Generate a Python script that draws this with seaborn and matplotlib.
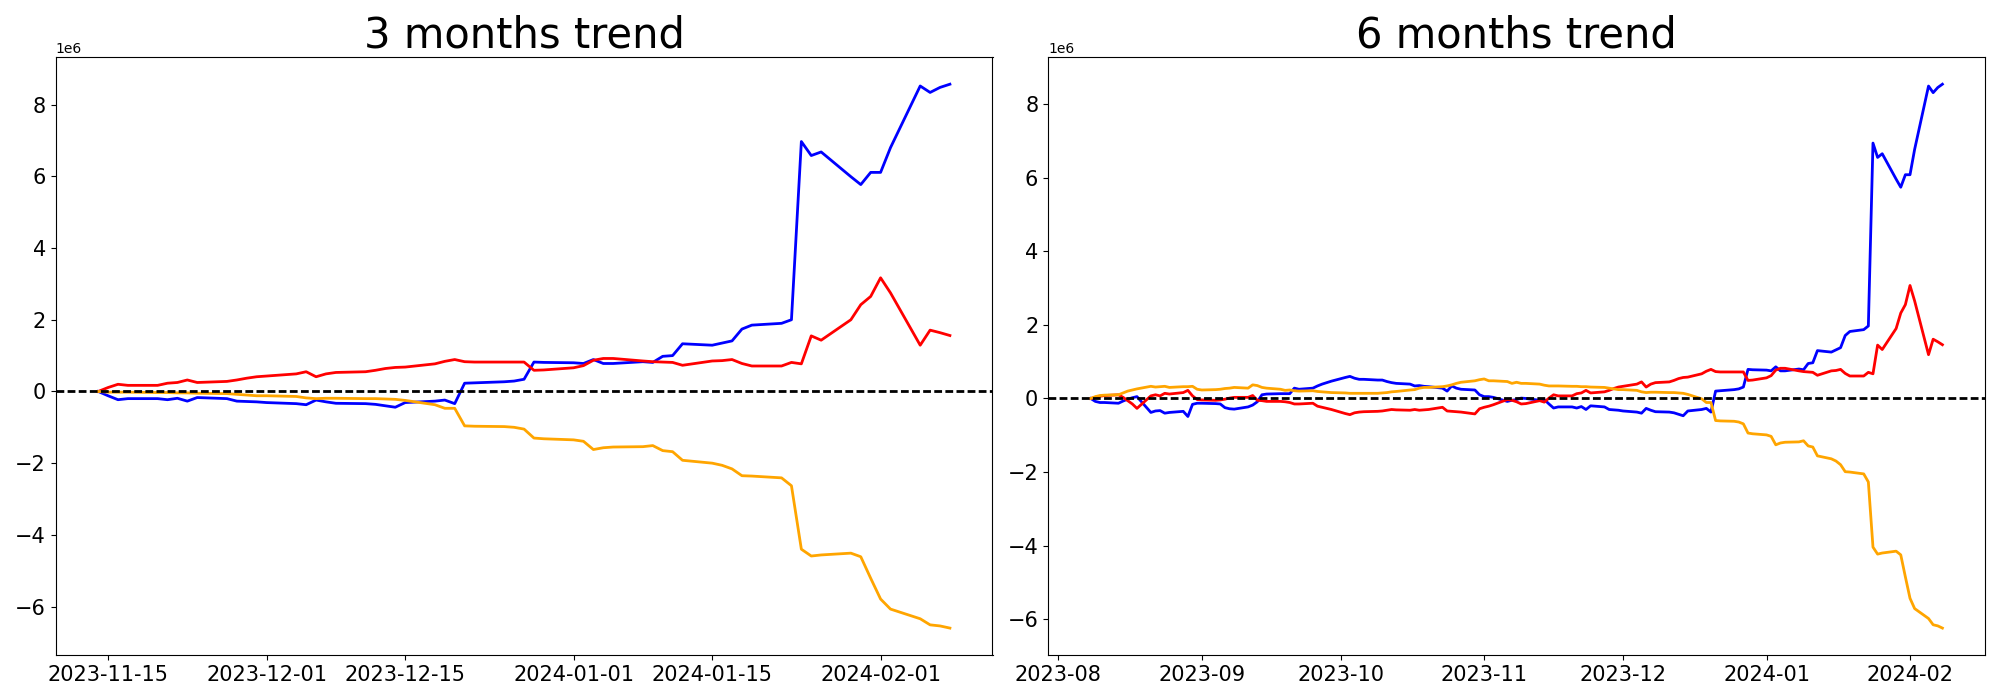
import numpy as np
import pandas as pd
import matplotlib
matplotlib.use("Agg")
import matplotlib.pyplot as plt
import seaborn as sns

# ---------------- data ----------------
# business days shown in the 3-month window
recent_dates = pd.bdate_range("2023-11-14", "2024-02-08")
# business days before that, shown only in the 6-month window
early_dates = pd.bdate_range("2023-08-08", "2023-11-13")

# 3-month window values (cumulative, rebased to 0 at 2023-11-14), in units of 1e6
blue_recent = [
    0.00, -0.12, -0.23, -0.20, -0.20, -0.23, -0.19, -0.27, -0.17, -0.20, -0.27, -0.28, -0.29,
    -0.31, -0.34, -0.37, -0.24, -0.29, -0.33, -0.34, -0.36, -0.40, -0.44, -0.31, -0.27, -0.24,
    -0.34, 0.23, 0.24, 0.27, 0.29, 0.34, 0.82, 0.81,
    0.80, 0.78, 0.89, 0.78, 0.78, 0.83, 0.81, 0.98, 1.00, 1.33, 1.29, 1.35, 1.41, 1.74, 1.85,
    1.90, 2.00, 6.97, 6.58, 6.68, 5.99, 5.77, 6.11,
    6.11, 6.80, 8.52, 8.34, 8.48, 8.57,
]
red_recent = [
    0.00, 0.11, 0.20, 0.17, 0.17, 0.23, 0.25, 0.32, 0.25, 0.28, 0.32, 0.37, 0.41,
    0.43, 0.49, 0.55, 0.41, 0.49, 0.53, 0.55, 0.59, 0.64, 0.67, 0.68, 0.77, 0.84,
    0.89, 0.83, 0.82, 0.82, 0.82, 0.82, 0.59, 0.60,
    0.66, 0.72, 0.87, 0.92, 0.92, 0.85, 0.83, 0.82, 0.81, 0.73, 0.85, 0.86, 0.89, 0.78, 0.71,
    0.71, 0.81, 0.77, 1.55, 1.43, 2.00, 2.42, 2.65,
    3.17, 2.75, 1.29, 1.71, 1.64, 1.56,
]
orange_recent = [
    0.00, -0.02, -0.02, -0.02, -0.03, -0.03, -0.04, -0.04, -0.05, -0.06, -0.08, -0.10, -0.12,
    -0.12, -0.14, -0.18, -0.20, -0.19, -0.19, -0.20, -0.20, -0.21, -0.22, -0.25, -0.37, -0.47,
    -0.47, -0.96, -0.97, -0.98, -1.00, -1.05, -1.30, -1.32,
    -1.35, -1.39, -1.62, -1.57, -1.55, -1.54, -1.51, -1.65, -1.68, -1.92, -2.00, -2.06, -2.16,
    -2.35, -2.36, -2.41, -2.63, -4.40, -4.59, -4.56, -4.51, -4.61, -5.21,
    -5.79, -6.07, -6.34, -6.51, -6.54, -6.60,
]

# 6-month window values before 2023-11-14 (cumulative from 2023-08-08), units of 1e6
blue_early = [
    0.00, -0.08, -0.11, -0.11, -0.13, -0.07, -0.02, 0.02, 0.05, -0.38, -0.34, -0.33, -0.40,
    -0.38, -0.35, -0.49, -0.16, -0.13,
    -0.13, -0.14, -0.15, -0.25, -0.28, -0.29, -0.23, -0.18, -0.09, 0.10, 0.12, 0.13, 0.13,
    0.13, 0.28, 0.25, 0.28, 0.34, 0.39, 0.43, 0.47,
    0.57, 0.60, 0.55, 0.52, 0.52, 0.50, 0.50, 0.46, 0.43, 0.41, 0.39, 0.34, 0.35, 0.33, 0.32,
    0.28, 0.20, 0.34, 0.28, 0.25, 0.23, 0.10,
    0.05, 0.05, 0.03, -0.08, -0.05, -0.03, 0.01, 0.00, -0.05,
]
red_early = [
    0.00, 0.03, 0.06, 0.08, 0.10, 0.03, -0.06, -0.15, -0.27, 0.07, 0.10, 0.07, 0.14, 0.12,
    0.16, 0.22, 0.07, -0.03,
    -0.04, -0.05, -0.04, -0.02, 0.01, 0.03, 0.03, 0.08, -0.05, -0.06, -0.08, -0.08, -0.09,
    -0.11, -0.15, -0.15, -0.13, -0.21, -0.24, -0.27, -0.30,
    -0.41, -0.44, -0.39, -0.37, -0.36, -0.35, -0.34, -0.32, -0.30, -0.31, -0.32, -0.30, -0.32,
    -0.31, -0.30, -0.24, -0.34, -0.35, -0.36, -0.37, -0.42, -0.28,
    -0.24, -0.21, -0.17, -0.03, -0.05, -0.09, -0.15, -0.14, -0.06,
]
orange_early = [
    0.00, 0.05, 0.08, 0.09, 0.10, 0.15, 0.20, 0.23, 0.26, 0.33, 0.31, 0.32, 0.33, 0.30, 0.32,
    0.32, 0.33, 0.25,
    0.23, 0.24, 0.25, 0.27, 0.28, 0.30, 0.28, 0.37, 0.35, 0.30, 0.28, 0.25, 0.22, 0.23, 0.21,
    0.20, 0.21, 0.19, 0.18, 0.17, 0.16,
    0.15, 0.14, 0.14, 0.14, 0.14, 0.14, 0.15, 0.16, 0.18, 0.19, 0.23, 0.24, 0.28, 0.30, 0.30,
    0.32, 0.34, 0.37, 0.41, 0.44, 0.48, 0.51,
    0.53, 0.48, 0.48, 0.46, 0.41, 0.44, 0.41, 0.41, 0.39,
]
# 6-month cumulative level on 2023-11-14 (where the 3-month window starts)
offset_blue = -0.03
offset_red = -0.10
offset_orange = 0.36

SCALE = 1e6

def three_month():
    return pd.DataFrame({
        "date": recent_dates,
        "blue": np.array(blue_recent) * SCALE,
        "red": np.array(red_recent) * SCALE,
        "orange": np.array(orange_recent) * SCALE,
    })

def six_month():
    dates = early_dates.append(recent_dates)
    return pd.DataFrame({
        "date": dates,
        "blue": np.concatenate([blue_early, np.array(blue_recent) + offset_blue]) * SCALE,
        "red": np.concatenate([red_early, np.array(red_recent) + offset_red]) * SCALE,
        "orange": np.concatenate([orange_early, np.array(orange_recent) + offset_orange]) * SCALE,
    })

# ---------------- plot ----------------
fig, axes = plt.subplots(1, 2, figsize=(20, 7), dpi=100)

panels = [(three_month(), "3 months trend"), (six_month(), "6 months trend")]
for ax, (df, title) in zip(axes, panels):
    for col in ["blue", "red", "orange"]:
        sns.lineplot(data=df, x="date", y=col, color=col, linewidth=2, ax=ax)
    ax.axhline(0, color="black", linestyle=(0, (2.8, 1.2)), linewidth=2)
    ax.set_title(title, fontsize=30)
    ax.set_xlabel("")
    ax.set_ylabel("")
    ax.tick_params(axis="both", labelsize=15)
    ax.yaxis.get_offset_text().set_fontsize(10)

plt.tight_layout()
fig.savefig("out.png", dpi=100)
